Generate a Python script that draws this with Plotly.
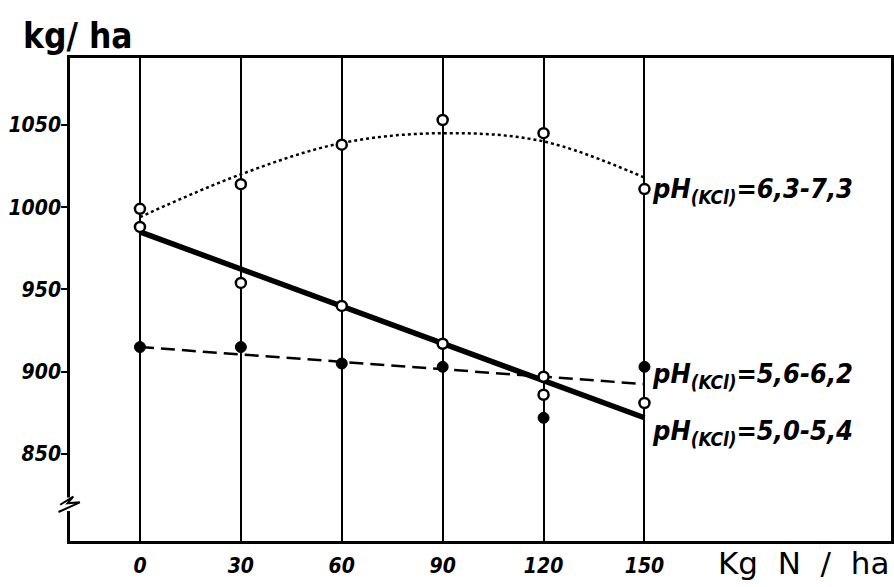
import plotly.graph_objects as go

# ---- data ----
n_rates = [0, 30, 60, 90, 120, 150]
y_ticks = [850, 900, 950, 1000, 1050]

# pH 6.3-7.3 (open circles, dotted fitted curve)
high_ph_obs = [999, 1014, 1038, 1053, 1045, 1011]
high_ph_fit = [994, 1020, 1039, 1045, 1040, 1018]

# pH 5.6-6.2 (filled circles, dashed fitted line)
mid_ph_obs = [915, 915, 905, 903, 872, 903]
mid_ph_fit_x = [0, 150]
mid_ph_fit = [915, 892.5]

# pH 5.0-5.4 (open circles, solid fitted line)
low_ph_x = [0, 30, 60, 90, 120, 120, 150]
low_ph_obs = [988, 954, 940, 917, 897, 886, 881]
low_ph_fit_x = [0, 150]
low_ph_fit = [985, 872]

labels = ["pH<sub>(KCl)</sub>=6,3-7,3", "pH<sub>(KCl)</sub>=5,6-6,2", "pH<sub>(KCl)</sub>=5,0-5,4"]
label_y = [1010, 898, 863]

FONT = "DejaVu Sans Condensed, sans-serif"
tickfont = dict(family=FONT, size=21, color="black", weight="bold", style="italic")

fig = go.Figure()

fig.add_trace(go.Scatter(x=n_rates, y=high_ph_fit, mode="lines", line=dict(color="black", width=2.5, dash="dot", shape="spline"), hoverinfo="skip"))
fig.add_trace(go.Scatter(x=mid_ph_fit_x, y=mid_ph_fit, mode="lines", line=dict(color="black", width=2.5, dash="14px,7px"), hoverinfo="skip"))
fig.add_trace(go.Scatter(x=low_ph_fit_x, y=low_ph_fit, mode="lines", line=dict(color="black", width=5.5), hoverinfo="skip"))

open_marker = dict(symbol="circle", size=10, color="white", line=dict(color="black", width=2.5))
fig.add_trace(go.Scatter(x=n_rates, y=high_ph_obs, mode="markers", marker=open_marker))
fig.add_trace(go.Scatter(x=low_ph_x, y=low_ph_obs, mode="markers", marker=open_marker))
fig.add_trace(go.Scatter(x=n_rates, y=mid_ph_obs, mode="markers",
                         marker=dict(symbol="circle", size=11, color="black", line=dict(color="black", width=1))))

for t, yv in zip(labels, label_y):
    fig.add_annotation(x=n_rates[-1], y=yv, text=t, showarrow=False, xanchor="left", yanchor="middle",
                       xshift=6, font=dict(family=FONT, size=27, color="black", weight="bold", style="italic"))

# axis titles
fig.add_annotation(xref="paper", yref="paper", x=-0.060, y=1.0, yshift=0, xanchor="left", yanchor="bottom",
                   text="kg/ ha", showarrow=False,
                   font=dict(family=FONT, size=35, color="black", weight="bold"))
fig.add_annotation(xref="paper", yref="paper", x=1.0, y=0, yshift=-2, xanchor="right", yanchor="top",
                   text="Kg  N  /  ha", showarrow=False,
                   font=dict(family="DejaVu Sans, sans-serif", size=31, color="black"))

# axis break mark on the y axis
fig.add_shape(type="rect", xref="paper", yref="paper", x0=-0.006, x1=0.006, y0=0.062, y1=0.09,
              fillcolor="white", line=dict(width=0), layer="above")
fig.add_shape(type="path", xref="paper", yref="paper",
              path="M -0.012,0.075 L 0.004,0.092 L -0.003,0.078 L 0.012,0.08 L -0.014,0.06",
              line=dict(color="black", width=2), layer="above")

fig.update_layout(
    width=894, height=587,
    margin=dict(l=70, r=3, t=58, b=46, autoexpand=False),
    plot_bgcolor="white", paper_bgcolor="white",
    showlegend=False,
    xaxis=dict(range=[-20.8, 223.3], tickvals=n_rates, ticktext=[str(v) for v in n_rates],
               showgrid=True, gridcolor="black", gridwidth=2, zeroline=False,
               showline=True, linecolor="black", linewidth=3, mirror=True, automargin=False,
               ticks="", tickfont=tickfont, ticklabelstandoff=4),
    yaxis=dict(range=[797.1, 1090.7], tickvals=y_ticks, ticktext=[str(v) for v in y_ticks],
               showgrid=False, zeroline=False, automargin=False,
               showline=True, linecolor="black", linewidth=2.5, mirror=True,
               ticks="outside", ticklen=6, tickwidth=2, tickcolor="black", tickfont=tickfont,
               ticklabelstandoff=-4),
)

fig.write_html("out.html", config={"displayModeBar": False},
               post_script="document.body.style.margin='0';document.body.style.overflow='hidden';")
